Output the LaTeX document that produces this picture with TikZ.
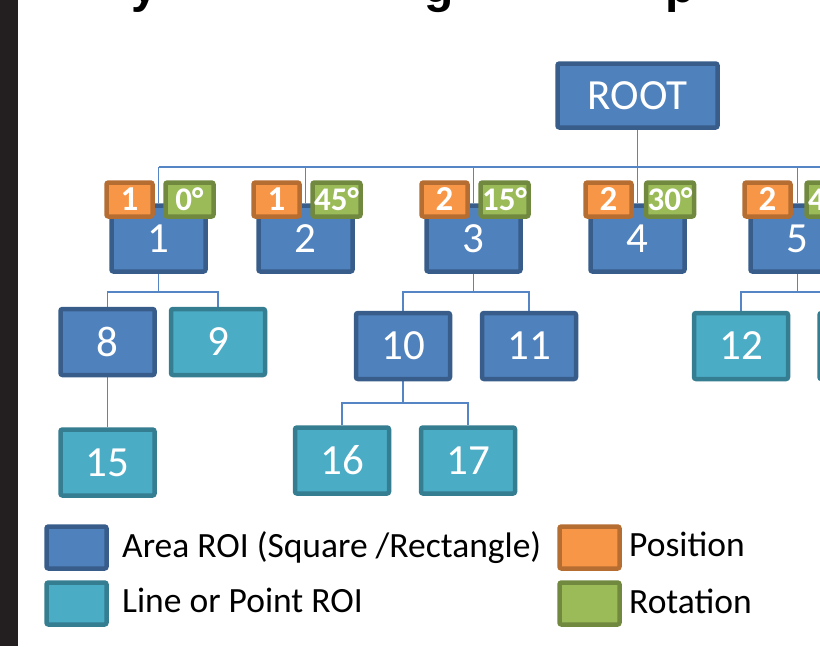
\documentclass[tikz,border=0pt]{standalone}
\usepackage{fontspec}
\setmainfont{Carlito}
\newfontfamily\topfont{Liberation Sans}
\usetikzlibrary{backgrounds}
\definecolor{ablue}{HTML}{4F81BD}
\definecolor{abluebd}{HTML}{385D8A}
\definecolor{teal}{HTML}{4BACC6}
\definecolor{tealbd}{HTML}{357D91}
\definecolor{orng}{HTML}{F79646}
\definecolor{orngbd}{HTML}{B66D31}
\definecolor{grn}{HTML}{9BBB59}
\definecolor{grnbd}{HTML}{71893F}
\definecolor{conncol}{HTML}{5585C4}
\definecolor{barcol}{HTML}{231F20}
\tikzset{
  basebox/.style={line width=4.5pt, rounded corners=2pt, inner sep=0pt, text=white},
  abox/.style={basebox, fill=ablue, draw=abluebd, minimum width=94pt, minimum height=66pt,
    font=\fontsize{43}{43}\selectfont},
  tbox/.style={basebox, fill=teal, draw=tealbd, minimum width=94pt, minimum height=66pt,
    font=\fontsize{43}{43}\selectfont},
  posbadge/.style={basebox, fill=orng, draw=orngbd, minimum width=46pt, minimum height=34pt,
    font=\fontsize{35}{35}\selectfont\bfseries},
  rotbadge/.style={basebox, fill=grn, draw=grnbd, minimum width=48pt, minimum height=34pt,
    font=\fontsize{33}{33}\selectfont\bfseries},
  legsq/.style={line width=4.5pt, rounded corners=2pt, minimum width=60pt, minimum height=42pt, inner sep=0pt},
  legtxt/.style={anchor=base west, inner sep=0pt, font=\fontsize{35.5}{35.5}\selectfont},
  conn/.style={draw=conncol, line width=1.9pt},
  topglyph/.style={anchor=base, inner sep=0pt, font=\topfont\bfseries\fontsize{48}{48}\selectfont}
}
\begin{document}
\begin{tikzpicture}[x=1pt,y=-1pt]
\useasboundingbox (0,0) rectangle (820,646);
\clip (0,0) rectangle (820,646);
\fill[barcol] (0,0) rectangle (17.5,646);
% cut-off title glyphs
\node[topglyph] (t1) at (145,2) {y};
\node[topglyph] (t2) at (439,2) {g};
\node[topglyph] (t3) at (680,2) {p};
% root
\node[abox, minimum width=160pt, minimum height=64pt] (root) at (637.5,95.5) {ROOT};
% level 1
\node[abox] (n1) at (158.5,238.5) {1};
\node[abox] (n2) at (305.5,238.5) {2};
\node[abox] (n3) at (473.5,238.5) {3};
\node[abox] (n4) at (637.5,238.5) {4};
\node[abox] (n5) at (797.5,238.5) {5};
% badges
\node[posbadge] (p1) at (129.5,199.5) {1};
\node[rotbadge] (r1) at (189.5,199.5) {0°};
\node[posbadge] (p2) at (276.5,199.5) {1};
\node[rotbadge] (r2) at (336.5,199.5) {45°};
\node[posbadge] (p3) at (444.5,199.5) {2};
\node[rotbadge] (r3) at (504.5,199.5) {15°};
\node[posbadge] (p4) at (608.5,199.5) {2};
\node[rotbadge] (r4) at (670,199.5) {30°};
\node[posbadge] (p5) at (767.5,199.5) {2};
\node[rotbadge] (r5) at (830.5,199.5) {45°};
% level 2
\node[abox] (n8) at (107.5,342) {8};
\node[tbox] (n9) at (218,342) {9};
\node[abox] (n10) at (403,346) {10};
\node[abox] (n11) at (529,346) {11};
\node[tbox] (n12) at (741,346) {12};
\node[tbox] (n13) at (866.5,346) {13};
% level 3
\node[tbox] (n15) at (107.5,462.5) {15};
\node[tbox] (n16) at (342,460.5) {16};
\node[tbox] (n17) at (468,460.5) {17};
% connectors
\begin{scope}[on background layer]
\coordinate (b1) at (0,167);
\coordinate (bR) at (840,167);
\coordinate (b2) at (0,292);
\coordinate (b3) at (0,403);
\draw[conn] (root.south) -- (root.south |- b1);
\draw[conn] (n1.north |- b1) -- (bR);
\foreach \n in {n1,n2,n3,n4,n5} \draw[conn] (\n.north |- b1) -- (\n.north);
\draw[conn] (n1.south) -- (n1.south |- b2);
\draw[conn] (n8.north) |- (n9.north |- b2) -- (n9.north);
\draw[conn] (n3.south) -- (n3.south |- b2);
\draw[conn] (n10.north) |- (n11.north |- b2) -- (n11.north);
\draw[conn] (n5.south) -- (n5.south |- b2);
\draw[conn] (n12.north) |- (n13.north |- b2) -- (n13.north);
\draw[conn] (n8.south) -- (n15.north);
\draw[conn] (n10.south) -- (n10.south |- b3);
\draw[conn] (n16.north) |- (n17.north |- b3) -- (n17.north);
\end{scope}
% legend
\node[legsq, fill=ablue, draw=abluebd] (l1) at (76.5,547.5) {};
\node[legsq, fill=teal, draw=tealbd] (l2) at (76.5,603.5) {};
\node[legsq, fill=orng, draw=orngbd] (l3) at (589.5,547.5) {};
\node[legsq, fill=grn, draw=grnbd] (l4) at (589.5,603.5) {};
\node[legtxt] (lt1) at (122,557) {Area ROI (Square /Rectangle)};
\node[legtxt] (lt2) at (122,612) {Line or Point ROI};
\node[legtxt] (lt3) at (629,556) {Position};
\node[legtxt] (lt4) at (629,613) {Rotation};
\end{tikzpicture}
\end{document}
